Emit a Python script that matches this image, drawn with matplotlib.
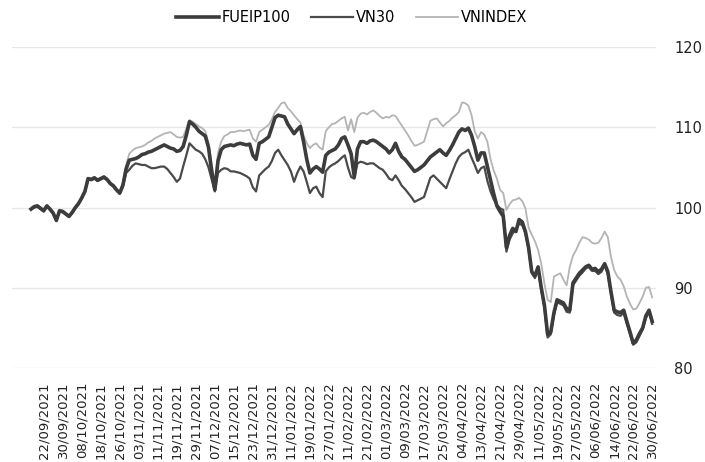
import numpy as np
import matplotlib
matplotlib.use("Agg")
import matplotlib.pyplot as plt

tick_labels = ["22/09/2021", "30/09/2021", "08/10/2021", "18/10/2021", "26/10/2021",
               "03/11/2021", "11/11/2021", "19/11/2021", "29/11/2021", "07/12/2021",
               "15/12/2021", "23/12/2021", "31/12/2021", "11/01/2022", "19/01/2022",
               "27/01/2022", "11/02/2022", "21/02/2022", "01/03/2022", "09/03/2022",
               "17/03/2022", "25/03/2022", "04/04/2022", "13/04/2022", "21/04/2022",
               "29/04/2022", "11/05/2022", "19/05/2022", "27/05/2022", "06/06/2022",
               "14/06/2022", "22/06/2022", "30/06/2022"]

fueip100 = [
    99.8, 100.1, 100.2, 99.9, 99.6, 100.2, 99.8, 99.3, 98.4, 99.6,
    99.5, 99.2, 98.9, 99.4, 100.0, 100.5, 101.2, 102.0, 103.6, 103.5,
    103.7, 103.4, 103.6, 103.8, 103.5, 103.0, 102.7, 102.2, 101.8, 102.8,
    104.8,
    105.9, 106.0, 106.1, 106.3, 106.6, 106.7, 106.9, 107.0, 107.2, 107.4,
    107.6, 107.8, 107.6, 107.4, 107.3, 107.0, 107.1, 107.6, 109.0, 110.7,
    110.4, 110.0, 109.5, 109.2, 108.9, 107.5, 104.5, 102.2, 105.8, 107.2,
    107.6, 107.7, 107.8, 107.7, 107.9, 108.0, 107.9, 107.8, 107.9, 106.5,
    106.0, 108.0, 108.2, 108.5, 108.8, 110.0, 111.2, 111.5, 111.4, 111.3,
    110.4, 109.8, 109.2, 109.7, 110.1, 108.2, 106.0, 104.3, 104.8, 105.1,
    104.8, 104.4, 106.5, 106.9, 107.1, 107.3, 107.8, 108.6, 108.8, 107.8,
    106.7, 103.8, 107.3, 108.2, 108.2, 108.0, 108.3, 108.4, 108.2, 107.9,
    107.6, 107.3, 106.8, 107.2, 108.0, 107.0, 106.3, 106.0, 105.5, 105.0,
    104.5, 104.7, 105.0, 105.3, 105.8, 106.3, 106.6, 106.9, 107.2, 106.8,
    106.5, 107.1, 107.8, 108.6, 109.4, 109.8, 109.6, 109.9, 109.0, 107.6,
    105.9, 106.8, 106.8, 105.1, 103.4, 101.7, 100.2, 99.5, 98.9, 95.0,
    96.5, 97.4, 97.0, 98.5, 98.2, 97.0, 95.0, 92.0, 91.5, 92.6,
    90.0, 87.8, 84.2, 84.5, 86.9, 88.5, 88.3, 88.1, 87.4, 87.2,
    90.6, 91.2, 91.8, 92.2, 92.6, 92.8, 92.3, 92.4, 92.0, 92.3,
    93.0, 92.0, 89.5, 87.2, 87.0, 86.9, 87.2, 85.8, 84.5, 83.1,
    83.5, 84.3, 85.0, 86.5, 87.2, 85.8]

vn30 = [
    99.8, 100.0, 100.1, 99.8, 99.5, 100.1, 99.7, 99.2, 98.3, 99.5,
    99.4, 99.1, 98.8, 99.3, 99.9, 100.4, 101.1, 101.9, 103.5, 103.4,
    103.6, 103.3, 103.5, 103.7, 103.4, 102.9, 102.6, 102.1, 101.7, 102.6,
    104.3,
    104.7, 105.2, 105.5, 105.4, 105.3, 105.3, 105.1, 104.9, 104.9, 105.0,
    105.1, 105.1, 104.8, 104.3, 103.8, 103.2, 103.6, 105.1, 106.5, 108.0,
    107.6, 107.2, 107.0, 106.7, 106.0, 105.0, 103.5, 102.0, 104.3, 104.7,
    104.9, 104.8, 104.5, 104.5, 104.4, 104.3, 104.1, 103.9, 103.6, 102.5,
    102.0, 104.0, 104.4, 104.8, 105.1, 105.8, 106.8, 107.2, 106.5, 105.9,
    105.3, 104.5, 103.2, 104.3, 105.1, 104.5, 103.2, 101.8, 102.4, 102.6,
    101.8, 101.3, 104.5, 105.0, 105.3, 105.5, 105.8, 106.2, 106.5, 105.0,
    103.8, 103.6, 105.5, 105.7, 105.6, 105.4, 105.5, 105.5, 105.2, 104.9,
    104.7, 104.2, 103.6, 103.4, 104.0, 103.4, 102.7, 102.3, 101.8, 101.3,
    100.7, 100.9, 101.1, 101.3, 102.5, 103.7, 104.0, 103.6, 103.2, 102.8,
    102.4, 103.5, 104.5, 105.5, 106.3, 106.7, 106.9, 107.2, 106.2, 105.3,
    104.3, 104.9, 105.1, 103.3, 102.0, 101.0, 100.3, 99.9, 99.7, 94.5,
    96.0, 96.8, 97.2, 98.0, 97.8, 96.8, 94.8, 91.8, 91.2, 92.3,
    89.7, 87.5, 83.8, 84.2, 86.6, 88.2, 88.0, 87.8, 87.0, 86.9,
    90.3, 90.9, 91.5, 91.9, 92.4, 92.6, 92.1, 92.1, 91.7, 92.0,
    92.8, 91.7, 89.2, 86.9, 86.6, 86.5, 86.9, 85.5, 84.2, 82.9,
    83.2, 84.0, 84.8, 86.2, 87.0, 85.5]

vnindex = [
    99.9, 100.2, 100.3, 100.0, 99.7, 100.3, 99.9, 99.4, 98.5, 99.7,
    99.6, 99.3, 99.0, 99.5, 100.1, 100.6, 101.3, 102.1, 103.7, 103.6,
    103.8, 103.5, 103.7, 103.9, 103.6, 103.1, 102.8, 102.3, 101.9, 103.0,
    105.3,
    106.7, 107.1, 107.4, 107.5, 107.6, 107.8, 108.1, 108.3, 108.6, 108.8,
    109.0, 109.2, 109.3, 109.4, 109.1, 108.8, 108.7, 108.8, 109.8, 110.9,
    110.7, 110.4, 110.1, 109.9, 109.5, 108.0, 105.5, 103.0, 106.8, 108.2,
    108.9, 109.1, 109.4, 109.4, 109.5, 109.6, 109.5, 109.6, 109.7, 108.6,
    108.2, 109.4, 109.7, 110.0, 110.3, 111.0, 111.9, 112.4, 113.0, 113.1,
    112.4, 112.0, 111.5, 111.0, 110.6, 109.0, 108.0, 107.4, 107.8, 108.0,
    107.5, 107.2, 109.5, 110.0, 110.4, 110.5, 110.8, 111.1, 111.3, 109.6,
    111.0, 109.4, 111.2, 111.7, 111.8, 111.6, 111.9, 112.1, 111.8, 111.4,
    111.1, 111.3, 111.2, 111.5, 111.4, 110.8, 110.2, 109.6, 109.0, 108.3,
    107.7, 107.8, 108.0, 108.2, 109.5, 110.8, 111.0, 111.1, 110.6, 110.1,
    110.5, 110.8, 111.2, 111.5, 111.9, 113.1, 113.0, 112.7, 111.5, 109.5,
    108.6, 109.4, 109.1, 108.2, 106.0, 104.6, 103.6, 102.2, 101.8, 99.7,
    100.4, 100.9, 101.0, 101.2, 100.8, 99.9, 97.5, 96.6, 95.8, 94.7,
    93.0, 90.5, 88.5, 88.2, 91.4, 91.6, 91.8, 91.0, 90.3, 92.6,
    94.0, 94.7, 95.6, 96.3, 96.2, 96.0, 95.6, 95.5, 95.6, 96.2,
    97.0, 96.3, 93.8, 92.2, 91.4, 91.0, 90.2, 88.9, 88.0, 87.3,
    87.4, 88.1, 88.9, 90.0, 90.1, 88.8]

plt.rcParams['font.family'] = ['DejaVu Sans']

fig = plt.figure(figsize=(7.05, 4.62), dpi=100)
ax = fig.add_axes([12 / 705, 1 - 368 / 462, (656 - 12) / 705, (368 - 47) / 462])

ax.plot(np.arange(len(vnindex)), vnindex, color="#b4b4b4", lw=1.3, label="VNINDEX", zorder=2)
ax.plot(np.arange(len(vn30)), vn30, color="#4a4a4a", lw=1.6, label="VN30", zorder=3)
ax.plot(np.arange(len(fueip100)), fueip100, color="#3c3c3c", lw=2.6, label="FUEIP100", zorder=4)

tick_pos = [4 + 6 * k for k in range(len(tick_labels))]
ax.set_xticks(tick_pos)
ax.set_xticklabels(tick_labels, rotation=90, fontsize=9.5, color="#222222")
ax.set_xlim(-6, 197.2)
ax.set_ylim(80, 120)
ax.set_yticks([80, 90, 100, 110, 120])
ax.yaxis.tick_right()
ax.tick_params(axis="y", length=0, pad=13, labelsize=10.5, labelcolor="#222222")
ax.tick_params(axis="x", length=0, pad=10)
for s in ax.spines.values():
    s.set_visible(False)
ax.grid(axis="y", color="#e6e6e6", lw=0.9)
ax.set_axisbelow(True)

handles, labels = ax.get_legend_handles_labels()
order = [2, 1, 0]
fig.legend([handles[i] for i in order], [labels[i] for i in order],
           loc="center", bbox_to_anchor=(352 / 705, 1 - 18 / 462), ncol=3,
           frameon=False, fontsize=10.5, handlelength=2.9, handletextpad=0.2,
           columnspacing=1.4)

fig.savefig("out.png", dpi=100, facecolor="white")
